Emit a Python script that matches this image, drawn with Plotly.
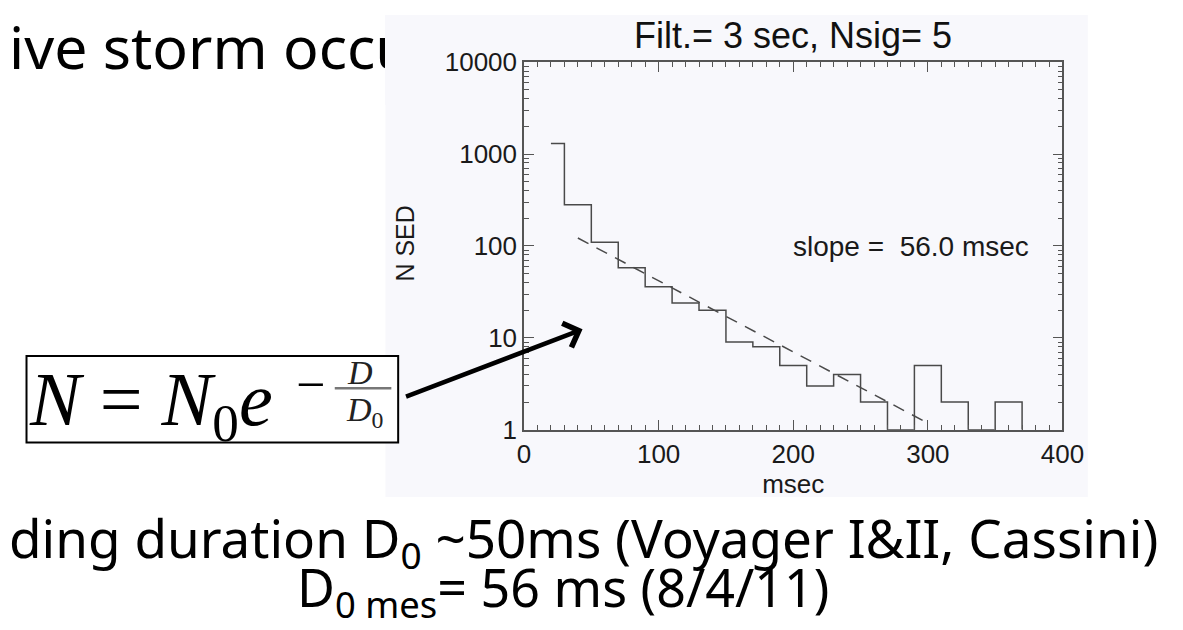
import plotly.graph_objects as go

W, H = 1183, 630

# ---------------- data ----------------
bin_edges = [20, 30, 50, 70, 90, 110, 130, 150, 170, 190, 210, 230, 250, 270, 290, 310, 330, 350, 370]
counts = [1300, 280, 110, 58, 36, 24, 20, 9, 8, 5, 3, 4, 2, 1, 5, 2, 1, 2]
baseline = 1
fit_x = [40, 300]
fit_y = [122, 1.18]
slope_msec = 56.0
x_ticks = [0, 100, 200, 300, 400]
y_ticks = [1, 10, 100, 1000, 10000]
y_ticklabels = ["1", "10", "100", "1000", "10000"]
chart_title = "Filt.= 3 sec, Nsig= 5"
x_title = "msec"
y_title = "N SED"


def px(x):
    return x / W


def py(y):
    return 1 - y / H


# plot area in pixels
PL, PR, PT, PB = 530, 1082, 49.5, 435.5

AX = "#555555"
LINE = "#4a4a4a"
SANS = "Liberation Sans, Arial, sans-serif"
COMIC = "Noto Sans, sans-serif"
SERIF = "Liberation Serif, Times New Roman, serif"

fig = go.Figure()

fig.add_trace(go.Scatter(
    x=bin_edges, y=counts + [baseline], mode="lines",
    line=dict(color=LINE, width=1.5, shape="hv"),
    hoverinfo="skip", showlegend=False, cliponaxis=False,
))
fig.add_trace(go.Scatter(
    x=fit_x, y=fit_y, mode="lines",
    line=dict(color=LINE, width=1.5, dash="12px,9px"),
    hoverinfo="skip", showlegend=False,
))

minor_y = [m * 10 ** k for k in range(0, 4) for m in range(2, 10)]

fig.update_xaxes(
    domain=[px(PL), px(PR)], range=[0, 400],
    showline=True, linecolor=AX, linewidth=1.5, mirror="ticks",
    ticks="inside", ticklen=10, tickwidth=1.3, tickcolor=AX,
    tickmode="array", tickvals=x_ticks,
    tickfont=dict(family=SANS, size=26, color="#1a1a1a"),
    minor=dict(tickmode="linear", tick0=0, dtick=10, ticks="inside", ticklen=5,
               tickwidth=1.2, tickcolor=AX),
    showgrid=False, zeroline=False,
    title=dict(text=x_title, font=dict(family=SANS, size=26, color="#1a1a1a"), standoff=0),
)
fig.update_yaxes(
    domain=[py(PB), py(PT)], type="log", range=[0, 4],
    showline=True, linecolor=AX, linewidth=1.5, mirror="ticks",
    ticks="inside", ticklen=10, tickwidth=1.3, tickcolor=AX,
    tickmode="array", tickvals=y_ticks, ticktext=y_ticklabels,
    tickfont=dict(family=SANS, size=26, color="#1a1a1a"),
    minor=dict(tickmode="array", tickvals=minor_y, ticks="inside", ticklen=5,
               tickwidth=1.2, tickcolor=AX),
    showgrid=False, zeroline=False,
)

shapes = [
    # embedded chart image background
    dict(type="rect", xref="paper", yref="paper", x0=px(388), x1=px(1108), y0=py(506), y1=py(0),
         fillcolor="#f8f8fc", line=dict(width=0), layer="below"),
    # formula box
    dict(type="rect", xref="paper", yref="paper", x0=px(20), x1=px(401), y0=py(449), y1=py(358),
         fillcolor="white", line=dict(color="black", width=2), layer="above"),
    # fraction bar
    dict(type="line", xref="paper", yref="paper", x0=px(336), x1=px(394), y0=py(392), y1=py(392),
         line=dict(color="#777777", width=2.5), layer="above"),
]

annotations = [
    # slide text top-left (partly hidden behind chart image)
    dict(text="ive storm occu", x=px(0), y=py(33), xanchor="left", yanchor="middle",
         font=dict(family=COMIC, size=59, color="black")),
    # cover for the part hidden by the chart image
    dict(text=" ", x=px(388), y=py(0), xanchor="left", yanchor="top", width=45, height=90,
         bgcolor="#f8f8fc", borderpad=0, borderwidth=0),
    # chart title
    dict(text=chart_title, x=px((PL + PR) / 2), y=py(22), xanchor="center", yanchor="middle",
         font=dict(family=SANS, size=36, color="#111111")),
    # y title
    dict(text=y_title, x=px(408), y=py(240), xanchor="center", yanchor="middle", textangle=-90,
         font=dict(family=SANS, size=25, color="#1a1a1a")),
    # slope label
    dict(text=f"slope =\u00a0 {slope_msec:.1f} msec", x=px(804), y=py(243), xanchor="left",
         yanchor="middle", font=dict(family=SANS, size=28, color="#1a1a1a")),
    # formula
    dict(text="<i>N</i> = <i>N</i><sub>0</sub><i>e</i>", x=px(20), y=py(410), xanchor="left",
         yanchor="middle", font=dict(family=SERIF, size=76, color="black")),
    dict(text="\u2212", x=px(311), y=py(388), xanchor="center", yanchor="middle",
         font=dict(family=SERIF, size=52, color="black")),
    dict(text="<i>D</i>", x=px(362), y=py(375), xanchor="center", yanchor="middle",
         font=dict(family=SERIF, size=34, color="#222222")),
    dict(text="<i>D</i><sub>0</sub>", x=px(366), y=py(417), xanchor="center", yanchor="middle",
         font=dict(family=SERIF, size=34, color="#222222")),
    # arrow
    dict(text="", x=px(590), y=py(330), ax=412 - 590, ay=398 - 330, xref="paper", yref="paper",
         showarrow=True, arrowhead=4, arrowsize=1.1, arrowwidth=4.5, arrowcolor="black",
         standoff=0, startstandoff=0),
    # bottom text
    dict(text="ding duration D<sub>0</sub> ~50ms (Voyager I&amp;II, Cassini)", x=px(0), y=py(552),
         xanchor="left", yanchor="middle", font=dict(family=COMIC, size=53, color="black")),
    dict(text="D<sub>0 mes</sub>= 56 ms (8/4/11)", x=px(570), y=py(604),
         xanchor="center", yanchor="middle", font=dict(family=COMIC, size=52, color="black")),
]
for a in annotations:
    a.setdefault("xref", "paper")
    a.setdefault("yref", "paper")
    a.setdefault("showarrow", False)

fig.update_layout(
    width=W, height=H, margin=dict(l=0, r=0, t=0, b=0),
    paper_bgcolor="white", plot_bgcolor="#f8f8fc",
    shapes=shapes, annotations=annotations, showlegend=False,
)

fig.write_html(
    "out.html",
    config={"displayModeBar": False},
    post_script="document.body.style.margin='0';document.body.style.padding='0';",
)
